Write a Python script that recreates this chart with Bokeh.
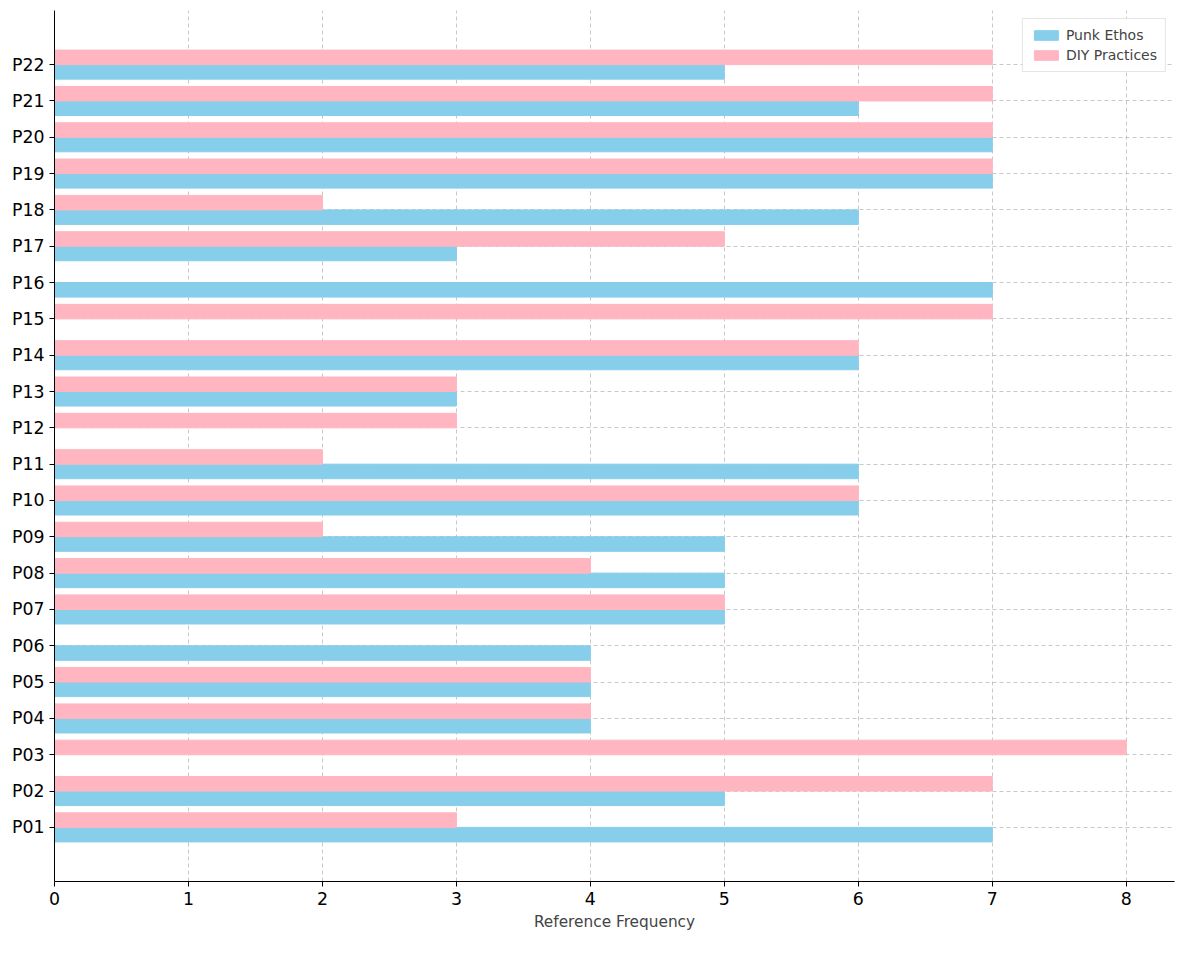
from bokeh.plotting import figure
from bokeh.models import FixedTicker, Range1d, Legend, LegendItem
from bokeh.embed import file_html
from bokeh.resources import INLINE

cats = [f"P{i:02d}" for i in range(1, 23)]
punk = [7,5,0,4,4,4,5,5,5,6,6,0,3,6,0,7,3,6,7,7,6,5]
diy = [3,7,8,4,4,0,5,4,2,6,2,3,3,6,7,0,5,2,7,7,7,7]
xticks = list(range(0, 9))

idx = list(range(len(cats)))
p = figure(width=1184, height=944, output_backend="svg", toolbar_location=None,
           x_range=Range1d(0, 8.36), y_range=Range1d(-1.49, 22.49),
           min_border_left=54, min_border_right=10, min_border_top=10, min_border_bottom=63)
r1 = p.hbar(y=[i - 0.2 for i in idx], right=punk, left=0, height=0.4, color="#87CEEB")
r2 = p.hbar(y=[i + 0.2 for i in idx], right=diy, left=0, height=0.4, color="#FFB6C1")

p.yaxis.ticker = FixedTicker(ticks=idx)
p.yaxis.major_label_overrides = {i: c for i, c in enumerate(cats)}
p.xaxis.ticker = FixedTicker(ticks=xticks)
p.xaxis.axis_label = "Reference Frequency"
for ax in (p.xaxis, p.yaxis):
    ax.major_label_text_font = "DejaVu Sans"
    ax.major_label_text_font_size = "13pt"
    ax.axis_label_text_font = "DejaVu Sans"
    ax.axis_label_text_font_size = "11.5pt"
    ax.axis_label_text_font_style = "normal"
    ax.minor_tick_line_color = None
    ax.major_tick_out = 5
    ax.major_tick_in = 0
    ax.axis_line_color = "black"
    ax.major_label_text_color = "black"
for g in (p.xgrid, p.ygrid):
    g.grid_line_color = "#b0b0b0"
    g.grid_line_dash = "4 3"
    g.grid_line_alpha = 0.7
p.xgrid.ticker = FixedTicker(ticks=xticks)
p.ygrid.ticker = FixedTicker(ticks=idx)
p.outline_line_color = None
p.background_fill_color = "white"

legend = Legend(items=[LegendItem(label="Punk Ethos", renderers=[r1]),
                       LegendItem(label="DIY Practices", renderers=[r2])],
                location="top_right", label_text_font="DejaVu Sans",
                label_text_font_size="10.5pt", border_line_color="#cccccc",
                glyph_height=12, glyph_width=30, spacing=4, padding=8, margin=8)
p.add_layout(legend)

open("out.html", "w").write(file_html(p, INLINE))
